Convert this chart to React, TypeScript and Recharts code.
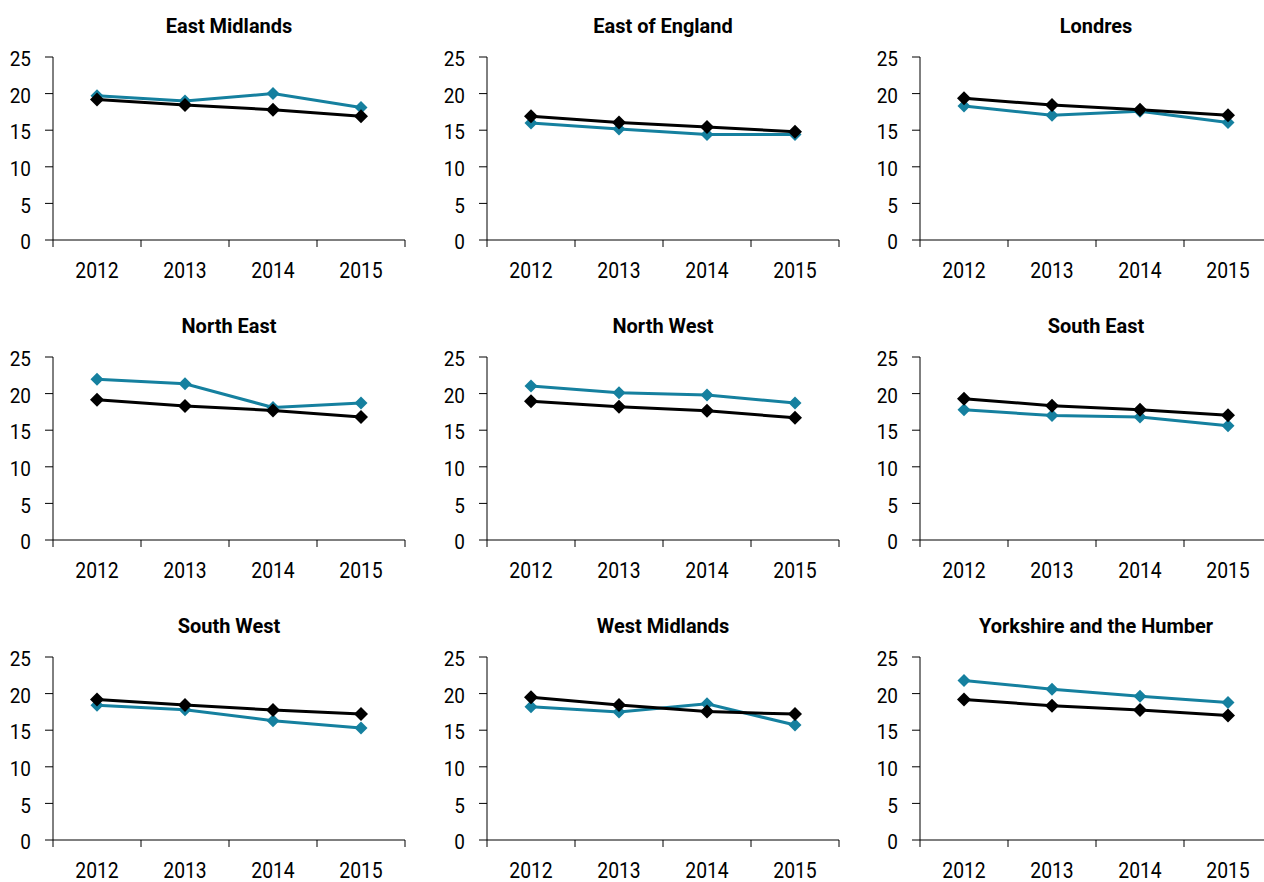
import { LineChart, Line, XAxis, YAxis } from 'recharts';

const FONT = 'Roboto, "Liberation Sans", sans-serif';
const TEAL = '#15809f';

const years = ['2012', '2013', '2014', '2015'];
const yTicks = [0, 5, 10, 15, 20, 25];

const regionNames = [
  'East Midlands',
  'East of England',
  'Londres',
  'North East',
  'North West',
  'South East',
  'South West',
  'West Midlands',
  'Yorkshire and the Humber',
];

// teal series: region
const regionValues = [
  [19.7, 19.0, 20.0, 18.1],
  [16.0, 15.15, 14.4, 14.4],
  [18.3, 17.05, 17.6, 16.05],
  [21.95, 21.35, 18.1, 18.7],
  [21.05, 20.1, 19.8, 18.7],
  [17.8, 17.0, 16.8, 15.6],
  [18.4, 17.8, 16.3, 15.3],
  [18.2, 17.5, 18.6, 15.7],
  [21.8, 20.6, 19.65, 18.8],
];

// black series: comparison
const englandValues = [
  [19.2, 18.45, 17.8, 16.9],
  [16.9, 16.05, 15.45, 14.8],
  [19.35, 18.45, 17.8, 17.05],
  [19.15, 18.3, 17.7, 16.8],
  [18.95, 18.2, 17.65, 16.7],
  [19.3, 18.35, 17.8, 17.05],
  [19.2, 18.45, 17.75, 17.2],
  [19.5, 18.45, 17.55, 17.2],
  [19.2, 18.35, 17.75, 17.0],
];

const W = 434;
const H = 300;
const PLOT_W = 352;
const BAND = PLOT_W / years.length;

function diamond(color: string, r: number) {
  return (props: any) => {
    const { cx, cy, index } = props;
    if (cx == null || cy == null) return null;
    return (
      <path
        key={`d-${index}`}
        d={`M${cx},${cy - r} L${cx + r},${cy} L${cx},${cy + r} L${cx - r},${cy} Z`}
        fill={color}
        stroke="none"
      />
    );
  };
}

function XTick(props: any) {
  const { x, y, payload, index } = props;
  return (
    <g>
      <text
        transform={`translate(${x},${y + 30}) scale(0.86,1)`}
        dy="0.355em"
        textAnchor="middle"
        fill="#000"
        fontSize={22.5}
        fontFamily={FONT}
      >
        {payload.value}
      </text>
      <line x1={x + BAND / 2} y1={y} x2={x + BAND / 2} y2={y + 7} stroke="#000" strokeWidth={1} />
      {index === 0 && (
        <line x1={x - BAND / 2} y1={y} x2={x - BAND / 2} y2={y + 7} stroke="#000" strokeWidth={1} />
      )}
    </g>
  );
}

function YTick(props: any) {
  const { x, y, payload } = props;
  return (
    <text
      transform={`translate(${x},${y + 2}) scale(0.95,1)`}
      dy="0.355em"
      textAnchor="end"
      fill="#000"
      fontSize={20}
      fontFamily={FONT}
    >
      {payload.value}
    </text>
  );
}

function Panel({ title, region, england, left, top }: any) {
  const data = years.map((year, i) => ({ year, region: region[i], england: england[i] }));
  return (
    <div style={{ position: 'absolute', left, top, width: W, height: H }}>
      <div
        style={{
          position: 'absolute',
          top: 14,
          left: 53,
          width: PLOT_W,
          textAlign: 'center',
          fontWeight: 700,
          fontSize: 21,
          fontFamily: FONT,
          lineHeight: '24px',
          transform: 'scaleX(0.95)',
          whiteSpace: 'nowrap',
        }}
      >
        {title}
      </div>
      <LineChart width={W} height={H} data={data} margin={{ top: 57, right: 29, left: 0, bottom: 20 }}>
        <XAxis
          dataKey="year"
          height={40}
          interval={0}
          padding={{ left: BAND / 2, right: BAND / 2 }}
          tickLine={false}
          tickSize={0}
          tickMargin={0}
          axisLine={{ stroke: '#000', strokeWidth: 1 }}
          tick={<XTick />}
        />
        <YAxis
          domain={[0, 25]}
          ticks={yTicks}
          width={53}
          tickSize={8}
          tickMargin={14}
          axisLine={{ stroke: '#000', strokeWidth: 1 }}
          tickLine={{ stroke: '#000', strokeWidth: 1 }}
          tick={<YTick />}
        />
        <Line
          dataKey="region"
          stroke={TEAL}
          strokeWidth={3}
          dot={diamond(TEAL, 6.5)}
          activeDot={false}
          isAnimationActive={false}
        />
        <Line
          dataKey="england"
          stroke="#000"
          strokeWidth={3}
          dot={diamond('#000', 7)}
          activeDot={false}
          isAnimationActive={false}
        />
      </LineChart>
    </div>
  );
}

export default function App() {
  const colLeft = [0, 434, 867];
  return (
    <div
      style={{
        position: 'absolute',
        left: 0,
        top: 0,
        width: 1264,
        height: 882,
        overflow: 'hidden',
        background: '#fff',
      }}
    >
      {regionNames.map((name, i) => (
        <Panel
          key={name}
          title={name}
          region={regionValues[i]}
          england={englandValues[i]}
          left={colLeft[i % 3]}
          top={Math.floor(i / 3) * H}
        />
      ))}
    </div>
  );
}
